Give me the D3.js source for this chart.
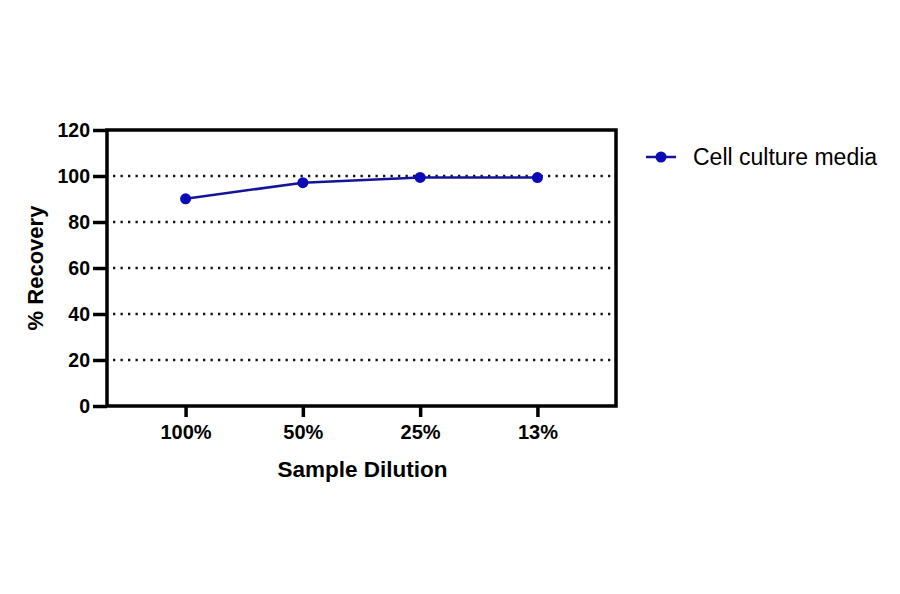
<!DOCTYPE html>
<html>
<head>
<meta charset="utf-8">
<script src="https://cdn.jsdelivr.net/npm/d3@7.9.0/dist/d3.min.js"></script>
<style>
  body { margin: 0; background: #fff; }
  text { font-family: Arial, "Liberation Sans", sans-serif; }
</style>
</head>
<body>
<svg id="chart" width="900" height="594"></svg>
<script>
// data
const dilutions = ['100%', '50%', '25%', '13%'];
const recovery = [90.1, 97.1, 99.4, 99.3];
const yTicks = [0, 20, 40, 60, 80, 100, 120];
const gridLines = [20, 40, 60, 80, 100];
const seriesName = 'Cell culture media';

const svg = d3.select('#chart');
const plotL = 107, plotR = 616, plotT = 130, plotB = 406;

const x = d3.scalePoint().domain(dilutions).range([plotL, plotR]).padding(0.67);
const y = d3.scaleLinear().domain([0, 120]).range([plotB, plotT]);

// dotted grid
svg.append('g').selectAll('line').data(gridLines).join('line')
  .attr('x1', plotL + 6).attr('x2', plotR - 2)
  .attr('y1', d => y(d)).attr('y2', d => y(d))
  .attr('stroke', '#111').attr('stroke-width', 2.4)
  .attr('stroke-dasharray', '2.3,5.2');

// frame
svg.append('rect')
  .attr('x', plotL).attr('y', plotT)
  .attr('width', plotR - plotL).attr('height', plotB - plotT)
  .attr('fill', 'none').attr('stroke', '#000').attr('stroke-width', 3.5);

// y axis
const yAxis = svg.append('g').attr('transform', `translate(${plotL},0)`)
  .call(d3.axisLeft(y).tickValues(yTicks).tickSize(14).tickPadding(3));
yAxis.select('.domain').remove();
yAxis.selectAll('line').attr('stroke', '#000').attr('stroke-width', 3.5);
yAxis.selectAll('text').attr('font-size', 19.5).attr('font-weight', 'bold').attr('fill', '#000');

// x axis
const xAxis = svg.append('g').attr('transform', `translate(0,${plotB})`)
  .call(d3.axisBottom(x).tickSize(11).tickPadding(8));
xAxis.select('.domain').remove();
xAxis.selectAll('line').attr('stroke', '#000').attr('stroke-width', 3.5);
xAxis.selectAll('text').attr('font-size', 20).attr('font-weight', 'bold').attr('fill', '#000');

// axis titles
svg.append('text')
  .attr('x', (plotL + plotR) / 2 + 1).attr('y', 477)
  .attr('text-anchor', 'middle').attr('font-size', 22.5).attr('font-weight', 'bold')
  .text('Sample Dilution');
svg.append('text')
  .attr('transform', `translate(43,${(plotT + plotB) / 2}) rotate(-90)`)
  .attr('text-anchor', 'middle').attr('font-size', 22).attr('font-weight', 'bold')
  .text('% Recovery');

// series
const line = d3.line().x((d, i) => x(dilutions[i])).y(d => y(d));
svg.append('path').datum(recovery)
  .attr('d', line).attr('fill', 'none')
  .attr('stroke', '#14149a').attr('stroke-width', 2.5);
svg.append('g').selectAll('circle').data(recovery).join('circle')
  .attr('cx', (d, i) => x(dilutions[i])).attr('cy', d => y(d))
  .attr('r', 5.5).attr('fill', '#0a0ab8');

// legend
const lg = svg.append('g').attr('transform', 'translate(646,157)');
lg.append('line').attr('x1', 0).attr('x2', 30).attr('y1', 0).attr('y2', 0)
  .attr('stroke', '#14149a').attr('stroke-width', 2.5);
lg.append('circle').attr('cx', 15).attr('cy', 0).attr('r', 5.5).attr('fill', '#0a0ab8');
lg.append('text').attr('x', 47).attr('y', 8).attr('font-size', 23).attr('fill', '#000')
  .text(seriesName);
</script>
</body>
</html>
